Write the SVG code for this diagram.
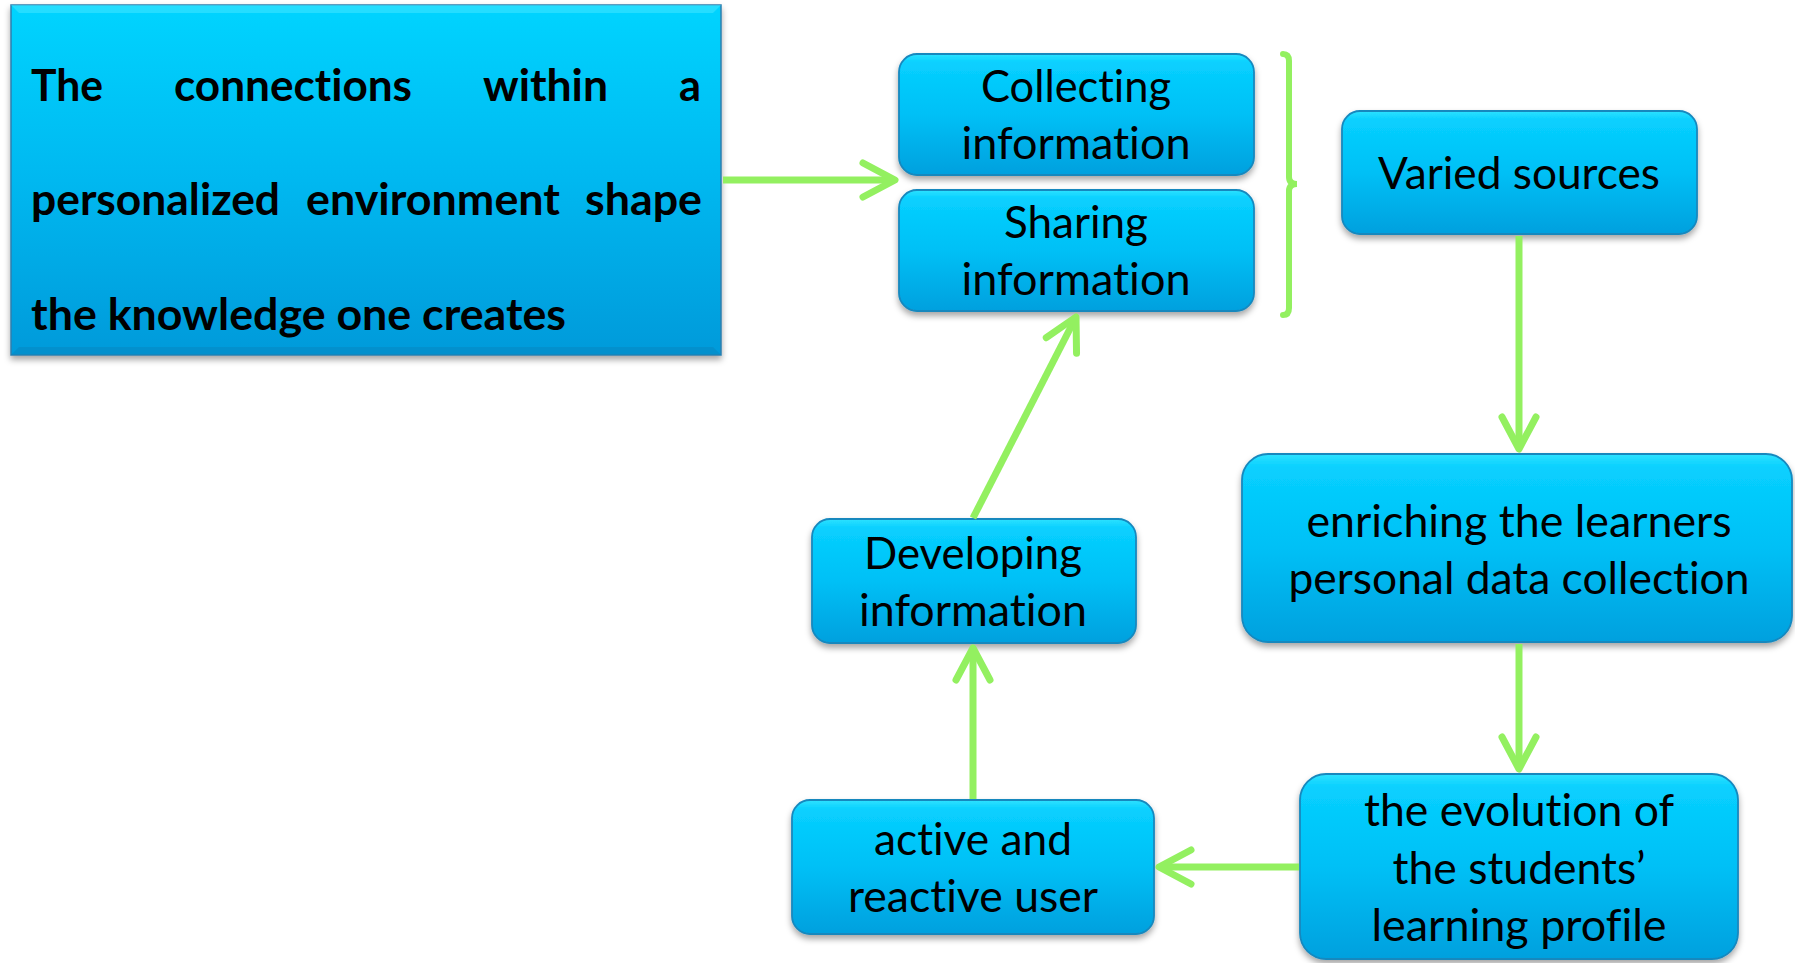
<svg xmlns="http://www.w3.org/2000/svg" width="1795" height="963" viewBox="0 0 1795 963">
<defs>
<linearGradient id="boxg" x1="0" y1="0" x2="0" y2="1">
<stop offset="0" stop-color="#2fe2ff"/>
<stop offset="0.07" stop-color="#08d0ff"/>
<stop offset="0.5" stop-color="#00c0f6"/>
<stop offset="1" stop-color="#02a0de"/>
</linearGradient>
<linearGradient id="bigg" x1="0" y1="0" x2="0" y2="1">
<stop offset="0" stop-color="#05d4ff"/>
<stop offset="0.5" stop-color="#02b8f0"/>
<stop offset="1" stop-color="#049ada"/>
</linearGradient>
<filter id="sh" x="-10%" y="-10%" width="120%" height="130%">
<feDropShadow dx="0" dy="4" stdDeviation="3" flood-color="#000" flood-opacity="0.35"/>
</filter>
<marker id="ah" markerUnits="userSpaceOnUse" viewBox="-40 -24 48 48" markerWidth="48" markerHeight="48" refX="0" refY="0" orient="auto" overflow="visible">
<path d="M-32,-17 L0,0 L-32,17" fill="none" stroke="#93f060" stroke-width="7" stroke-linecap="round" stroke-linejoin="round"/>
</marker>
</defs>
<style>
.node{fill:url(#boxg);stroke:#1588be;stroke-width:1.8;filter:url(#sh)}
.t{font-family:Lato,"Open Sans","Liberation Sans",sans-serif;font-size:44px;fill:#000;text-anchor:middle;font-variant-ligatures:none;font-feature-settings:"liga" 0,"clig" 0}
.b{font-family:Lato,"Open Sans","Liberation Sans",sans-serif;font-size:44px;font-weight:bold;fill:#000;font-variant-ligatures:none;font-feature-settings:"liga" 0,"clig" 0}
.c{fill:none;stroke:#93f060;stroke-width:7;marker-end:url(#ah)}
</style>
<rect width="1795" height="963" fill="#fff"/>

<g id="main">
<rect x="11" y="5" width="710" height="350" fill="url(#bigg)" stroke="#2b7fae" stroke-width="1.5" filter="url(#sh)"/>
<polygon points="11,5 721,5 713,13 19,13" fill="#3ee4ff" opacity="0.6"/>
<polygon points="11,355 721,355 713,347 19,347" fill="#0585bf" opacity="0.5"/>
<text class="b" x="31" y="101" textLength="72" lengthAdjust="spacingAndGlyphs">The</text>
<text class="b" x="174" y="101" textLength="238" lengthAdjust="spacingAndGlyphs">connections</text>
<text class="b" x="483" y="101" textLength="125" lengthAdjust="spacingAndGlyphs">within</text>
<text class="b" x="679" y="101" textLength="22" lengthAdjust="spacingAndGlyphs">a</text>
<text class="b" x="31" y="215" textLength="249" lengthAdjust="spacingAndGlyphs">personalized</text>
<text class="b" x="306" y="215" textLength="254" lengthAdjust="spacingAndGlyphs">environment</text>
<text class="b" x="585" y="215" textLength="117" lengthAdjust="spacingAndGlyphs">shape</text>
<text class="b" x="31" y="330" textLength="535" lengthAdjust="spacingAndGlyphs">the knowledge one creates</text>
</g>

<g id="collecting">
<rect class="node" x="899" y="54" width="355" height="121" rx="18"/>
<text class="t" x="1076" y="102" textLength="190" lengthAdjust="spacingAndGlyphs">Collecting</text>
<text class="t" x="1076" y="159" textLength="229" lengthAdjust="spacingAndGlyphs">information</text>
</g>

<g id="sharing">
<rect class="node" x="899" y="190" width="355" height="121" rx="18"/>
<text class="t" x="1076" y="238" textLength="144" lengthAdjust="spacingAndGlyphs">Sharing</text>
<text class="t" x="1076" y="295" textLength="229" lengthAdjust="spacingAndGlyphs">information</text>
</g>

<g id="varied">
<rect class="node" x="1342" y="111" width="355" height="123" rx="18"/>
<text class="t" x="1519" y="189" textLength="282" lengthAdjust="spacingAndGlyphs">Varied sources</text>
</g>

<g id="enriching">
<rect class="node" x="1242" y="454" width="550" height="188" rx="26"/>
<text class="t" x="1519" y="537" textLength="425" lengthAdjust="spacingAndGlyphs">enriching the learners</text>
<text class="t" x="1519" y="594" textLength="461" lengthAdjust="spacingAndGlyphs">personal data collection</text>
</g>

<g id="evolution">
<rect class="node" x="1300" y="774" width="438" height="185" rx="26"/>
<text class="t" x="1519" y="826" textLength="310" lengthAdjust="spacingAndGlyphs">the evolution of</text>
<text class="t" x="1519" y="884" textLength="253" lengthAdjust="spacingAndGlyphs">the students’</text>
<text class="t" x="1519" y="941" textLength="295" lengthAdjust="spacingAndGlyphs">learning profile</text>
</g>

<g id="active">
<rect class="node" x="792" y="800" width="362" height="134" rx="18"/>
<text class="t" x="973" y="855" textLength="198" lengthAdjust="spacingAndGlyphs">active and</text>
<text class="t" x="973" y="912" textLength="250" lengthAdjust="spacingAndGlyphs">reactive user</text>
</g>

<g id="developing">
<rect class="node" x="812" y="519" width="324" height="124" rx="18"/>
<text class="t" x="973" y="569" textLength="218" lengthAdjust="spacingAndGlyphs">Developing</text>
<text class="t" x="973" y="626" textLength="228" lengthAdjust="spacingAndGlyphs">information</text>
</g>

<g id="connectors">
<path d="M1283,54 Q1289,54 1289,61 L1289,177 Q1289,184 1297,184 Q1289,184 1289,191 L1289,308 Q1289,315 1283,315" fill="none" stroke="#93f060" stroke-width="6" stroke-linecap="round"/>
<line class="c" x1="723" y1="180" x2="895" y2="180"/>
<line class="c" x1="1519" y1="236" x2="1519" y2="449"/>
<line class="c" x1="1519" y1="644" x2="1519" y2="769"/>
<line class="c" x1="1299" y1="867" x2="1159" y2="867"/>
<line class="c" x1="973" y1="799" x2="973" y2="648"/>
<line class="c" x1="973" y1="518" x2="1076" y2="317"/>
</g>
</svg>
